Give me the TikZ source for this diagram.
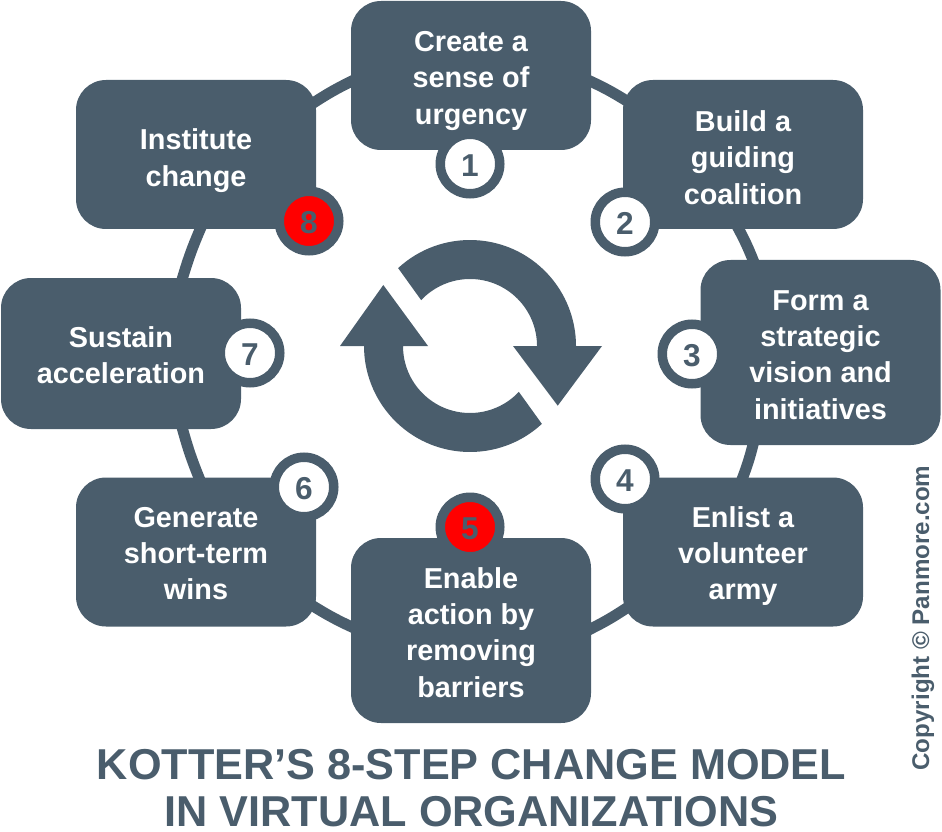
\documentclass[tikz,border=0pt]{standalone}
\usepackage{fontspec}
\setmainfont{Liberation Sans}
\definecolor{kotterslate}{RGB}{74,93,108}
\definecolor{kotterred}{RGB}{255,0,0}
\usetikzlibrary{arrows.meta, positioning, calc}
\newcommand{\pushdown}[1]{\rule{0pt}{#1}}
\tikzset{
  stepbox/.style={rectangle, fill=kotterslate, rounded corners=0.3cm, inner sep=0pt,
    minimum width=2.4cm, minimum height=1.49cm, align=center, text=white,
    font=\fontsize{8.2}{10.28}\selectfont\bfseries},
  stepnum/.style={circle, draw=kotterslate, line width=0.095cm, fill=white, inner sep=0pt,
    minimum size=0.595cm, text=kotterslate, text height=7pt, text depth=0pt,
    font=\fontsize{9}{10}\selectfont\bfseries},
  ringline/.style={draw=kotterslate, line width=0.11cm, shorten <=-2pt, shorten >=-2pt}
}

\begin{document}
\begin{tikzpicture}
  \useasboundingbox (0,0) rectangle (9.42,8.31);

  % Steps round the ring
  \node[stepbox] (create) at (4.71,7.555) {\pushdown{8.85pt}Create a\\sense of\\urgency};
  \node[stepbox] (build) at (7.43,6.765) {\pushdown{7.7pt}Build a\\guiding\\coalition};
  \node[stepbox, minimum height=1.85cm] (form) at (8.205,4.785) {\pushdown{7.14pt}Form a\\strategic\\vision and\\initiatives};
  \node[stepbox] (enlist) at (7.43,2.79) {\pushdown{8.3pt}Enlist a\\volunteer\\army};
  \node[stepbox, minimum height=1.85cm] (enable) at (4.71,2.005) {\pushdown{7.14pt}Enable\\action by\\removing\\barriers};
  \node[stepbox] (generate) at (1.96,2.79) {\pushdown{6.57pt}Generate\\short-term\\wins};
  \node[stepbox, minimum height=1.51cm] (sustain) at (1.21,4.775) {\pushdown{7.14pt}Sustain\\acceleration};
  \node[stepbox] (institute) at (1.96,6.765) {\pushdown{9.4pt}Institute\\change};

  % Ring pieces between the steps
  \draw[ringline] (create.-3.6) to[bend left=3.5] (build.155);
  \draw[ringline] (build.267.7) to[bend left=3.5] (form.126.5);
  \draw[ringline] (form.234.3) to[bend left=3.5] (enlist.90.8);
  \draw[ringline] (enlist.206.2) to[bend left=3.5] (enable.1.7);
  \draw[ringline] (enable.178.3) to[bend left=3.5] (generate.-25.8);
  \draw[ringline] (generate.88.5) to[bend left=3.5] (sustain.-51.5);
  \draw[ringline] (sustain.51) to[bend left=3.5] (institute.-87);
  \draw[ringline] (institute.24.4) to[bend left=3.5] (create.183.1);

  % Numbered badges
  \node[stepnum] (num1) at (4.70,6.67) {1};
  \node[stepnum] (num2) at (6.25,6.09) {2};
  \node[stepnum] (num3) at (6.92,4.77) {3};
  \node[stepnum] (num4) at (6.25,3.52) {4};
  \node[stepnum, fill=kotterred] (num5) at (4.70,3.04) {5};
  \node[stepnum] (num6) at (3.04,3.44) {6};
  \node[stepnum] (num7) at (2.50,4.78) {7};
  \node[stepnum, fill=kotterred] (num8) at (3.09,6.10) {8};

  % Cycle arrows in the middle
  \fill[kotterslate] (4.70,4.85) ++(132.7:1.06) arc[start angle=132.7, end angle=0, radius=1.06]
       -- (6.02,4.85) -- (5.577,4.253) -- (5.13,4.85) -- (5.37,4.85)
       arc[start angle=0, end angle=136.8, radius=0.67] -- cycle;
  \fill[kotterslate] (4.70,4.85) ++(-47.3:1.06) arc[start angle=-47.3, end angle=-180, radius=1.06]
       -- (3.40,4.85) -- (3.833,5.46) -- (4.28,4.85) -- (4.03,4.85)
       arc[start angle=180, end angle=316.8, radius=0.67] -- cycle;

  % Title and credit
  \node[font=\fontsize{12.3}{13.4}\selectfont\bfseries, kotterslate, align=center, inner sep=0pt] (title) at (4.715,0.43)
       {KOTTER’S 8-STEP CHANGE MODEL\\IN VIRTUAL ORGANIZATIONS};
  \node[font=\fontsize{6.87}{8}\selectfont\bfseries, kotterslate, rotate=90, inner sep=0pt] (credit) at (9.23,2.13)
       {Copyright © Panmore.com};
\end{tikzpicture}
\end{document}
